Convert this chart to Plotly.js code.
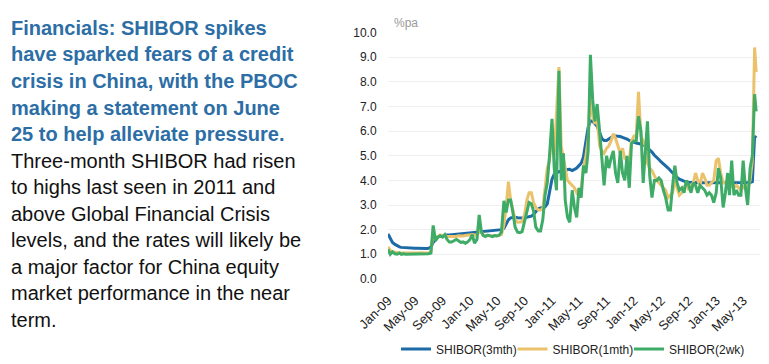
<!DOCTYPE html>
<html>
<head>
<meta charset="utf-8">
<script src="https://cdn.plot.ly/plotly-3.0.1.min.js"></script>
<style>
html,body{margin:0;padding:0;background:#fff;}
#chart{width:769px;height:364px;}
</style>
</head>
<body>
<div id="chart"></div>
<script>
// Sample dates (1st, 11th, 21st of each month; last point 28 Jun 2013)
const dates = [
'2009-01-01','2009-01-11','2009-01-21','2009-02-01','2009-02-11','2009-02-21','2009-03-01','2009-03-11','2009-03-21',
'2009-04-01','2009-04-11','2009-04-21','2009-05-01','2009-05-11','2009-05-21','2009-06-01','2009-06-11','2009-06-21',
'2009-07-01','2009-07-11','2009-07-21','2009-08-01','2009-08-11','2009-08-21','2009-09-01','2009-09-11','2009-09-21',
'2009-10-01','2009-10-11','2009-10-21','2009-11-01','2009-11-11','2009-11-21','2009-12-01','2009-12-11','2009-12-21',
'2010-01-01','2010-01-11','2010-01-21','2010-02-01','2010-02-11','2010-02-21','2010-03-01','2010-03-11','2010-03-21',
'2010-04-01','2010-04-11','2010-04-21','2010-05-01','2010-05-11','2010-05-21','2010-06-01','2010-06-11','2010-06-21',
'2010-07-01','2010-07-11','2010-07-21','2010-08-01','2010-08-11','2010-08-21','2010-09-01','2010-09-11','2010-09-21',
'2010-10-01','2010-10-11','2010-10-21','2010-11-01','2010-11-11','2010-11-21','2010-12-01','2010-12-11','2010-12-21',
'2011-01-01','2011-01-11','2011-01-21','2011-02-01','2011-02-11','2011-02-21','2011-03-01','2011-03-11','2011-03-21',
'2011-04-01','2011-04-11','2011-04-21','2011-05-01','2011-05-11','2011-05-21','2011-06-01','2011-06-11','2011-06-21',
'2011-07-01','2011-07-11','2011-07-21','2011-08-01','2011-08-11','2011-08-21','2011-09-01','2011-09-11','2011-09-21',
'2011-10-01','2011-10-11','2011-10-21','2011-11-01','2011-11-11','2011-11-21','2011-12-01','2011-12-11','2011-12-21',
'2012-01-01','2012-01-11','2012-01-21','2012-02-01','2012-02-11','2012-02-21','2012-03-01','2012-03-11','2012-03-21',
'2012-04-01','2012-04-11','2012-04-21','2012-05-01','2012-05-11','2012-05-21','2012-06-01','2012-06-11','2012-06-21',
'2012-07-01','2012-07-11','2012-07-21','2012-08-01','2012-08-11','2012-08-21','2012-09-01','2012-09-11','2012-09-21',
'2012-10-01','2012-10-11','2012-10-21','2012-11-01','2012-11-11','2012-11-21','2012-12-01','2012-12-11','2012-12-21',
'2013-01-01','2013-01-11','2013-01-21','2013-02-01','2013-02-11','2013-02-21','2013-03-01','2013-03-11','2013-03-21',
'2013-04-01','2013-04-11','2013-04-21','2013-05-01','2013-05-11','2013-05-21','2013-06-01','2013-06-11','2013-06-21',
'2013-06-28'
];

const shibor3m = [
1.82,1.62,1.48, 1.40,1.34,1.30, 1.28,1.27,1.26, 1.25,1.25,1.24, 1.24,1.24,1.23, 1.23,1.23,1.23,
1.24,1.30,1.48, 1.62,1.70,1.74, 1.76,1.77,1.78, 1.78,1.79,1.80, 1.80,1.81,1.82, 1.82,1.83,1.84,
1.85,1.86,1.88, 1.89,1.90,1.92, 1.93,1.94,1.95, 1.96,1.97,1.97, 1.97,1.98,2.00, 2.05,2.20,2.40,
2.48,2.50,2.50, 2.48,2.47,2.47, 2.48,2.50,2.52, 2.55,2.62,2.75, 2.85,2.88,2.90, 2.92,3.05,3.60,
4.05,4.25,4.32, 4.35,4.38,4.40, 4.42,4.44,4.45, 4.40,4.45,4.50, 4.60,4.70,4.95, 5.50,6.15,6.42,
6.40,6.30,6.20, 5.95,5.70,5.62, 5.62,5.68,5.75, 5.80,5.80,5.80, 5.78,5.75,5.72, 5.68,5.62,5.58,
5.55,5.52,5.50, 5.48,5.45,5.40, 5.32,5.25,5.15, 5.02,4.95,4.85, 4.75,4.68,4.60, 4.50,4.40,4.30,
4.20,4.12,4.05, 4.00,3.96,3.93, 3.92,3.91,3.90, 3.90,3.90,3.90, 3.90,3.90,3.90, 3.90,3.90,3.90,
3.90,3.90,3.90, 3.90,3.90,3.90, 3.90,3.90,3.90, 3.90,3.90,3.90, 3.90,3.90,3.90, 3.91,3.95,5.80,
5.72
];

const shibor1m = [
1.30,1.15,1.10, 1.08,1.05,1.05, 1.05,1.06,1.05, 1.05,1.06,1.05, 1.05,1.05,1.06, 1.06,1.05,1.06,
1.05,1.10,1.85, 1.70,1.72,1.78, 1.78,1.75,1.72, 1.72,1.70,1.70, 1.72,1.75,1.74, 1.74,1.76,1.78,
1.78,1.80,1.78, 1.76,1.95,1.90, 1.78,1.76,1.75, 1.75,1.74,1.75, 1.75,1.76,1.80, 2.20,2.90,3.95,
3.20,2.80,2.40, 2.30,2.30,2.32, 2.60,3.20,3.50, 3.50,3.10,2.90, 2.80,2.80,2.85, 3.70,4.50,4.80,
6.00,5.00,6.50, 8.60,5.40,4.90, 4.40,4.00,3.90, 3.80,3.70,3.50, 3.60,3.70,4.50, 5.00,5.70,7.80,
6.60,6.30,6.50, 5.40,5.20,5.10, 5.30,5.40,5.60, 5.90,5.70,5.40, 5.10,5.30,4.90, 4.90,4.80,5.60,
5.80,5.80,7.60, 5.80,5.60,5.40, 4.70,4.50,4.40, 4.20,4.00,3.90, 3.80,3.70,3.60, 3.30,3.40,3.50,
4.00,3.70,3.40, 3.50,3.70,3.90, 3.60,3.80,3.90, 4.30,4.00,3.80, 4.30,4.10,3.80, 3.80,3.90,4.00,
4.80,4.90,4.30, 3.90,3.90,3.90, 3.70,3.80,3.70, 3.80,3.70,3.60, 3.70,3.80,3.70, 4.00,4.80,9.40,
8.40
];

const shibor2w = [
1.20,1.00,1.10, 1.02,1.00,1.05, 1.00,1.02,1.00, 1.00,1.03,1.00, 1.00,1.02,1.00, 1.00,1.02,1.00,
1.02,1.05,2.17, 1.55,1.70,1.75, 1.70,1.80,1.60, 1.50,1.50,1.55, 1.60,1.55,1.48, 1.50,1.45,1.50,
1.60,1.80,1.45, 1.60,2.60,1.90, 1.76,1.72,1.78, 1.75,1.72,1.76, 1.74,1.78,1.90, 3.17,2.70,3.20,
3.20,2.70,2.10, 1.90,1.88,1.92, 2.30,2.70,3.10, 3.05,2.75,2.10, 1.95,1.95,2.40, 3.40,3.90,5.00,
6.50,4.50,3.60, 8.45,4.00,5.10, 3.20,2.50,2.30, 3.60,2.90,2.50, 3.70,3.30,4.60, 4.30,5.20,9.10,
7.30,6.40,7.10, 6.00,4.80,3.80, 5.00,4.50,4.90, 5.20,4.30,3.90, 5.20,4.30,4.00, 5.00,3.70,5.50,
5.60,5.60,6.60, 6.00,3.90,5.30, 6.40,4.20,3.30, 4.00,4.00,4.10, 4.00,3.60,3.30, 2.80,2.80,3.80,
4.60,3.90,3.60, 3.70,3.50,4.00, 3.80,3.50,3.90, 3.80,3.50,3.80, 3.70,3.60,3.40, 3.50,3.40,3.10,
3.50,4.50,4.10, 2.90,3.50,4.30, 3.40,4.80,3.40, 3.60,3.40,3.40, 4.80,3.70,3.00, 4.50,5.00,7.50,
6.80
];

const seriesNames = ['SHIBOR(3mth)', 'SHIBOR(1mth)', 'SHIBOR(2wk)'];
const tickDates = ['2009-01-01','2009-05-01','2009-09-01','2010-01-01','2010-05-01','2010-09-01','2011-01-01',
  '2011-05-01','2011-09-01','2012-01-01','2012-05-01','2012-09-01','2013-01-01','2013-05-01'];
const tickLabels = ['Jan-09','May-09','Sep-09','Jan-10','May-10','Sep-10','Jan-11',
  'May-11','Sep-11','Jan-12','May-12','Sep-12','Jan-13','May-13'];
const yTickVals = [0,1,2,3,4,5,6,7,8,9,10];
const yTickLabels = ['0.0','1.0','2.0','3.0','4.0','5.0','6.0','7.0','8.0','9.0','10.0'];

const headlineLines = [
  'Financials: SHIBOR spikes',
  'have sparked fears of a credit',
  'crisis in China, with the PBOC',
  'making a statement on June',
  '25 to help alleviate pressure.'
];
const bodyLines = [
  'Three-month SHIBOR had risen',
  'to highs last seen in 2011 and',
  'above Global Financial Crisis',
  'levels, and the rates will likely be',
  'a major factor for China equity',
  'market performance in the near',
  'term.'
];
const unitLabel = '%pa';

const W = 769, H = 364;
const FONT = 'Liberation Sans, Arial, Helvetica, sans-serif';
const colors = ['#1c6aa6', '#ebc26c', '#3eab67'];

const traces = [shibor3m, shibor1m, shibor2w].map((vals, i) => ({
  type: 'scatter', mode: 'lines', x: dates, y: vals, name: seriesNames[i],
  line: {color: colors[i], width: 3}, hoverinfo: 'skip'
}));

const annotations = [];
const allLines = headlineLines.concat(bodyLines);
allLines.forEach((t, i) => {
  const cy = 28.3 + 26.8 * i;
  const bold = i < headlineLines.length;
  annotations.push({
    xref: 'paper', yref: 'paper', x: 9 / W, y: 1 - cy / H,
    xanchor: 'left', yanchor: 'middle', showarrow: false,
    text: bold ? '<b>' + t + '</b>' : t,
    font: {family: FONT, size: 20, color: bold ? '#2c6ea5' : '#111111'}
  });
});
annotations.push({
  xref: 'paper', yref: 'paper', x: 392 / W, y: 1 - 23 / H,
  xanchor: 'left', yanchor: 'middle', showarrow: false,
  text: unitLabel, font: {family: FONT, size: 12, color: '#9a9a9a'}
});

const layout = {
  width: W, height: H,
  margin: {l: 0, r: 0, t: 0, b: 0, pad: 0},
  paper_bgcolor: '#ffffff', plot_bgcolor: '#ffffff',
  font: {family: FONT, size: 12, color: '#222222'},
  showlegend: true,
  legend: {
    orientation: 'h', x: 571 / W, xanchor: 'center', y: 1 - 353 / H, yanchor: 'middle',
    font: {family: FONT, size: 12, color: '#222222'}, bgcolor: 'rgba(0,0,0,0)',
    itemwidth: 30, tracegroupgap: 0, entrywidth: 71.5, entrywidthmode: 'pixels'
  },
  xaxis: {
    type: 'date', domain: [388 / W, 760 / W], range: ['2009-01-01', '2013-07-15'],
    tickmode: 'array', tickvals: tickDates, ticktext: tickLabels, tickangle: -45,
    ticks: 'outside', ticklen: 8, tickcolor: 'rgba(0,0,0,0)',
    showgrid: false, zeroline: false, showline: false,
    tickfont: {family: FONT, size: 13, color: '#222222'}, automargin: false, fixedrange: true
  },
  yaxis: {
    domain: [1 - 282 / H, 1 - 33 / H], range: [0, 10],
    tickmode: 'array', tickvals: yTickVals, ticktext: yTickLabels,
    ticks: 'outside', ticklen: 8, tickcolor: 'rgba(0,0,0,0)',
    showgrid: true, gridcolor: '#efefef', gridwidth: 1, zeroline: false, showline: false,
    tickfont: {family: FONT, size: 12, color: '#222222'}, automargin: false, fixedrange: true
  },
  annotations: annotations
};

Plotly.newPlot('chart', traces, layout, {displayModeBar: false, staticPlot: true});
</script>
</body>
</html>
